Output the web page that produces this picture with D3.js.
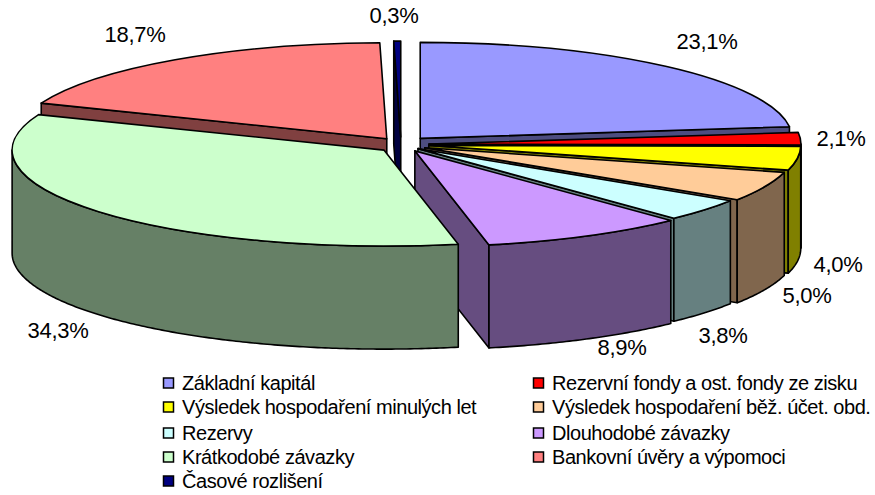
<!DOCTYPE html>
<html>
<head>
<meta charset="utf-8">
<script src="https://cdn.jsdelivr.net/npm/d3@7/dist/d3.min.js"></script>
<style>
html,body{margin:0;padding:0;background:#fff;}
svg{display:block;}
text{font-family:"Liberation Sans",Arial,sans-serif;fill:#000;}
</style>
</head>
<body>
<svg id="chart" width="875" height="495"></svg>
<script>
const categories = ["Základní kapitál","Rezervní fondy a ost. fondy ze zisku","Výsledek hospodaření minulých let","Výsledek hospodaření běž. účet. obd.","Rezervy","Dlouhodobé závazky","Krátkodobé závazky","Bankovní úvěry a výpomoci","Časové rozlišení"];
const values = [23.1,2.1,4.0,5.0,3.8,8.9,34.3,18.7,0.3];
const labels = ["23,1%","2,1%","4,0%","5,0%","3,8%","8,9%","34,3%","18,7%","0,3%"];
const colors = ["#9999FF","#FF0000","#FFFF00","#FFCC99","#CCFFFF","#CC99FF","#CCFFCC","#FF8080","#000080"];
const explode = [29,28,28,26,22,30,22,25,27];
const settle = [0,0.5,0.5,1,1,0,2.5,0,0];

const W = {cx:401, cy:144, R:372, k:0.258, depth:103};
const labelAt = [[707,41],[841,138],[838,264],[807,295],[723,335],[622,347],[58,330],[135,34],[394,15]];
const legendRows = [383,407,433,457,481], legendCols = [163,533];

const svg = d3.select("#chart");
const pie = d3.pie().sort(null).value(d=>d).startAngle(0).endAngle(2*Math.PI);
const arcs = pie(values);
const topArc = d3.arc().innerRadius(0).outerRadius(W.R);
const line = d3.line();
const dark = c => { const r = d3.rgb(c); return d3.rgb(r.r/2, r.g/2, r.b/2).formatHex(); };

function drawSlice(a){
  const i = a.index, mid = (a.startAngle+a.endAngle)/2, e = explode[i];
  const ax = W.cx + e*Math.sin(mid), ay = W.cy - e*W.k*Math.cos(mid) + settle[i];
  const rim = t => [ax + W.R*Math.sin(t), ay - W.R*W.k*Math.cos(t)];
  const down = p => [p[0], p[1]+W.depth];
  const g = svg.append("g").attr("stroke","#000").attr("stroke-width",1.6).attr("stroke-linejoin","round");
  const side = dark(colors[i]);
  const face = t => {
    const r = rim(t);
    g.append("path").attr("fill",side).attr("d",line([[ax,ay],r,down(r),[ax,ay+W.depth]])+"Z");
  };
  if(Math.sin(a.startAngle)<0) face(a.startAngle);
  if(Math.sin(a.endAngle)>0) face(a.endAngle);
  const t0 = Math.max(a.startAngle,Math.PI/2), t1 = Math.min(a.endAngle,1.5*Math.PI);
  if(t1>t0){
    const ts = d3.range(t0,t1,0.01).concat([t1]);
    const upper = ts.map(rim), lower = ts.map(rim).map(down).reverse();
    g.append("path").attr("fill",side).attr("d",line(upper.concat(lower))+"Z");
  }
  g.append("path")
    .attr("transform",`translate(${ax},${ay}) scale(1,${W.k})`)
    .attr("vector-effect","non-scaling-stroke")
    .attr("fill",colors[i])
    .attr("d",topArc(a));
}
[8,7,0,1,2,3,4,5,6].forEach(i=>drawSlice(arcs[i]));

svg.append("g").selectAll("text").data(labels).join("text")
  .attr("x",(d,i)=>labelAt[i][0]).attr("y",(d,i)=>labelAt[i][1])
  .attr("text-anchor","middle").attr("dominant-baseline","central")
  .attr("font-size",22).attr("letter-spacing",-0.3).text(d=>d);

const lg = svg.append("g").selectAll("g").data(categories).join("g")
  .attr("transform",(d,i)=>`translate(${legendCols[i%2]},${legendRows[Math.floor(i/2)]})`);
lg.append("rect").attr("x",0.5).attr("y",-5).attr("width",10).attr("height",10)
  .attr("fill",(d,i)=>colors[i]).attr("stroke","#000").attr("stroke-width",1.5);
lg.append("text").attr("x",19).attr("y",0).attr("dominant-baseline","central")
  .attr("font-size",20).attr("letter-spacing",-0.45).text(d=>d);
</script>
</body>
</html>
